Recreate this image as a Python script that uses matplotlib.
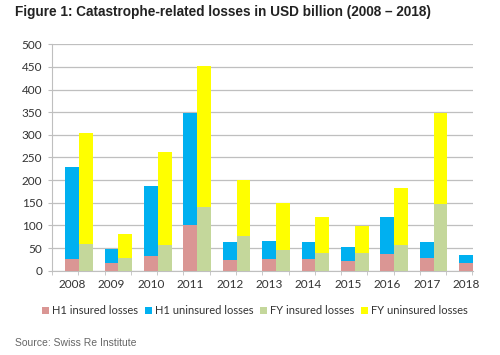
import matplotlib
matplotlib.use("Agg")
import matplotlib.pyplot as plt
import numpy as np

years = ["2008", "2009", "2010", "2011", "2012", "2013", "2014", "2015", "2016", "2017", "2018"]
h1_insured = [25, 18, 32, 101, 24, 25, 25, 21, 37, 28, 18]
h1_uninsured = [205, 31, 155, 247, 40, 40, 38, 31, 82, 35, 16]
fy_insured = [60, 29, 56, 141, 77, 46, 38, 38, 57, 147, 0]
fy_uninsured = [243, 53, 206, 312, 123, 103, 80, 61, 126, 201, 0]
yticks = [0, 50, 100, 150, 200, 250, 300, 350, 400, 450, 500]

c_pink = "#DA9694"
c_blue = "#00B0F0"
c_green = "#C4D79B"
c_yellow = "#FFFF00"

plt.rcParams['font.family'] = ['Lato', 'DejaVu Sans']

fig = plt.figure(figsize=(5.0, 3.55), dpi=100)
ax = fig.add_axes([0.104, 0.2375, 0.842, 0.6377])

x = np.arange(len(years))
w = 0.35
ax.bar(x, h1_insured, w, color=c_pink, label="H1 insured losses", zorder=3)
ax.bar(x, h1_uninsured, w, bottom=h1_insured, color=c_blue, label="H1 uninsured losses", zorder=3)
ax.bar(x + w, fy_insured, w, color=c_green, label="FY insured losses", zorder=3)
ax.bar(x + w, fy_uninsured, w, bottom=fy_insured, color=c_yellow, label="FY uninsured losses", zorder=3)

ax.set_xlim(-0.51, 10 + w / 2)
ax.set_ylim(0, 500)
ax.set_yticks(yticks)
ax.set_yticklabels([str(v) for v in yticks], fontsize=8.5, color="#333333")
ax.set_xticks(x)
ax.set_xticklabels(years, fontsize=8.5, color="#333333")
ax.tick_params(axis='x', length=0, pad=6)
ax.tick_params(axis='y', length=3, color="#BFBFBF", pad=4)
ax.set_xticks(np.arange(-0.51, 10.2, 0.667), minor=True)
ax.tick_params(axis='x', which='minor', length=3, color="#BFBFBF")

ax.grid(axis='y', color="#BFBFBF", linewidth=0.9, zorder=0)
for s in ["top", "right"]:
    ax.spines[s].set_visible(False)
ax.spines["left"].set_color("#BFBFBF")
ax.spines["bottom"].set_color("#BFBFBF")

leg = fig.legend(loc="center", bbox_to_anchor=(0.51, 0.124), ncol=4, frameon=False,
                 fontsize=8, handlelength=0.6, handleheight=0.6, handletextpad=0.3,
                 columnspacing=0.6)
for t in leg.get_texts():
    t.set_color("#333333")

fig.text(0.03, 0.965, "Figure 1: Catastrophe-related losses in USD billion (2008 \u2013 2018)",
         fontsize=9.8, fontweight="bold", family=["Liberation Sans", "DejaVu Sans"],
         va="center", ha="left", color="#222222")
fig.text(0.03, 0.033, "Source: Swiss Re Institute", fontsize=7.5, color="#666666",
         family=["Liberation Sans", "DejaVu Sans"], va="center", ha="left")

fig.savefig("out.png", dpi=100)
